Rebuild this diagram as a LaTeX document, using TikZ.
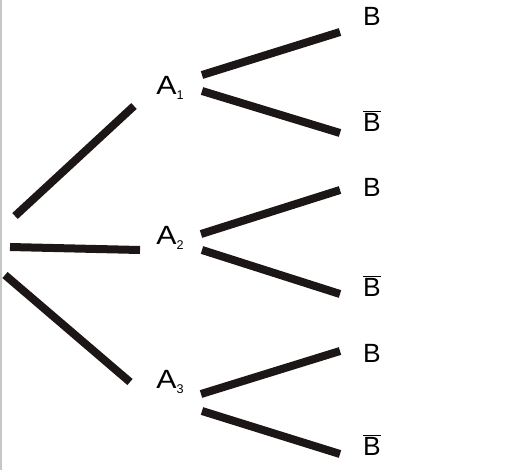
\documentclass[tikz,border=0pt]{standalone}
\usepackage{fontspec}
\setmainfont{Liberation Sans}
\definecolor{branchcol}{HTML}{1C1616}
\tikzset{branch/.style={line width=0.16cm, color=branchcol, line cap=butt},
 lbl/.style={inner sep=0pt, font=\fontsize{15}{15}\selectfont},
 }
\newcommand{\sub}[1]{\raisebox{-0.35ex}{\fontsize{7.2}{7.2}\selectfont #1}}
\newcommand{\nb}{$\overline{\mbox{B}}$}

\begin{document}
\begin{tikzpicture}[x=0.02cm, y=-0.02cm]
        \useasboundingbox (0,0) rectangle (516,470);
        \draw [gray!45, line width=0.04cm] (1,0) -- (1,470);
        % labels
        \node [lbl] (a1) at (170,88) {\scalebox{1.15}[1]{A}\sub{1}};
        \node [lbl] (a2) at (170,238) {\scalebox{1.15}[1]{A}\sub{2}};
        \node [lbl] (a3) at (170,382) {\scalebox{1.15}[1]{A}\sub{3}};
        \node [lbl] (b1) at (372,16) {B};
        \node [lbl] (nb1) at (372,121) {\nb};
        \node [lbl] (b2) at (372,187) {B};
        \node [lbl] (nb2) at (372,286) {\nb};
        \node [lbl] (b3) at (372,353) {B};
        \node [lbl] (nb3) at (372,445) {\nb};
        % ends of the branches
        \coordinate (r1) at (15,216);  \coordinate (a1in) at (134,106);
        \coordinate (r2) at (10,247);  \coordinate (a2in) at (140,250);
        \coordinate (r3) at (5,275);   \coordinate (a3in) at (130,382);
        \coordinate (a1u) at (202,75); \coordinate (b1in) at (340,32);
        \coordinate (a1d) at (202,91); \coordinate (nb1in) at (340,133);
        \coordinate (a2u) at (201,234); \coordinate (b2in) at (340,190);
        \coordinate (a2d) at (202,250); \coordinate (nb2in) at (340,294);
        \coordinate (a3u) at (201,394); \coordinate (b3in) at (340,351);
        \coordinate (a3d) at (202,411); \coordinate (nb3in) at (340,454);
        \draw [branch] (r1) -- (a1in);
        \draw [branch] (r2) -- (a2in);
        \draw [branch] (r3) -- (a3in);
        \draw [branch] (a1u) -- (b1in);
        \draw [branch] (a1d) -- (nb1in);
        \draw [branch] (a2u) -- (b2in);
        \draw [branch] (a2d) -- (nb2in);
        \draw [branch] (a3u) -- (b3in);
        \draw [branch] (a3d) -- (nb3in);
    \end{tikzpicture}
\end{document}
